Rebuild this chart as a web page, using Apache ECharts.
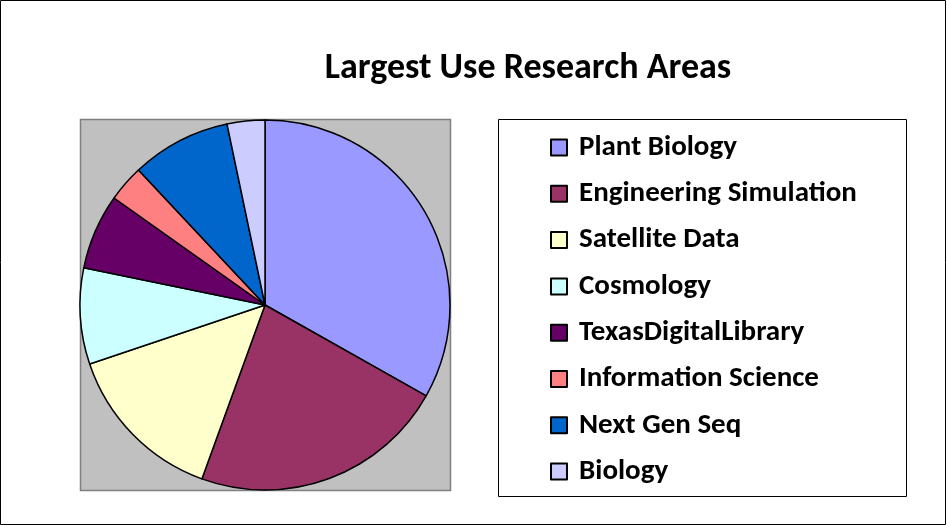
<!DOCTYPE html>
<html>
<head>
<meta charset="utf-8">
<script src="https://cdn.jsdelivr.net/npm/echarts@6/dist/echarts.min.js"></script>
<style>
  html, body { margin: 0; padding: 0; background: #fff; }
  #chart { width: 947px; height: 526px; }
</style>
</head>
<body>
<div id="chart"></div>
<script>
// data (percent of use)
const areas = ['Plant Biology', 'Engineering Simulation', 'Satellite Data', 'Cosmology',
  'TexasDigitalLibrary', 'Information Science', 'Next Gen Seq', 'Biology'];
const usage = [33.2, 22.4, 14.3, 8.4, 6.6, 3.2, 8.7, 3.3];
const sliceColors = ['#9999FF', '#993366', '#FFFFCC', '#CCFFFF', '#660066', '#FF8080', '#0066CC', '#CCCCFF'];

const chart = echarts.init(document.getElementById('chart'));
const font = 'Carlito, "Liberation Sans Narrow", "Liberation Sans", sans-serif';

const option = {
  animation: false,
  backgroundColor: '#fff',
  title: {
    text: 'Largest Use Research Areas',
    left: 523,
    top: 46,
    textAlign: 'center',
    textStyle: { fontFamily: font, fontWeight: 'bold', fontSize: 36, color: '#000' }
  },
  graphic: [
    { type: 'rect', shape: { x: 0.5, y: 0.5, width: 945, height: 524 },
      style: { fill: 'none', stroke: '#000', lineWidth: 1 }, z: -1 },
    { type: 'rect', shape: { x: 80.5, y: 119.5, width: 370, height: 371 },
      style: { fill: '#C0C0C0', stroke: '#808080', lineWidth: 1.5 }, z: -1 },
    { type: 'rect', shape: { x: 498.5, y: 119.5, width: 408, height: 377 },
      style: { fill: '#fff', stroke: '#000', lineWidth: 1 }, z: -1 }
  ],
  legend: {
    orient: 'vertical',
    left: 545,
    top: 128,
    itemWidth: 16,
    itemHeight: 16,
    itemGap: 17.3,
    icon: 'rect',
    selectedMode: false,
    textStyle: { fontFamily: font, fontWeight: 'bold', fontSize: 29, color: '#000', lineHeight: 28, padding: [0, 0, 0, 7] },
    data: areas
  },
  series: [{
    type: 'pie',
    center: [265, 305],
    radius: 185,
    startAngle: 90,
    clockwise: true,
    label: { show: false },
    labelLine: { show: false },
    emphasis: { disabled: true },
    itemStyle: { borderColor: '#000', borderWidth: 1.5 },
    data: areas.map((name, i) => ({ name: name, value: usage[i], itemStyle: { color: sliceColors[i] } }))
  }]
};
chart.setOption(option);
</script>
</body>
</html>
